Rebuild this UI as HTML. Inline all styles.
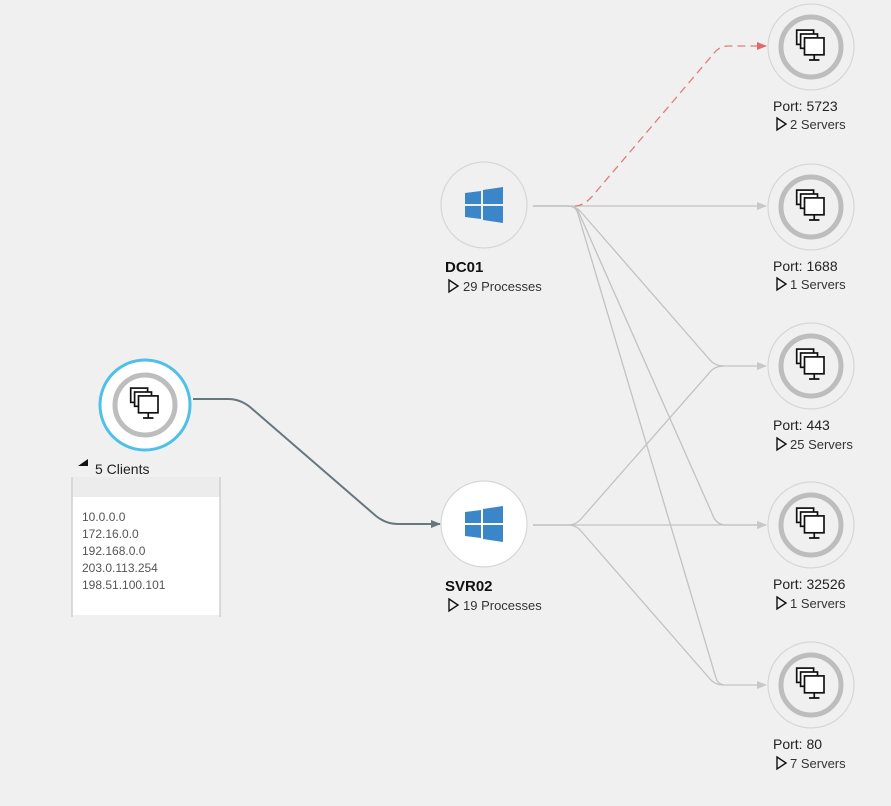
<!DOCTYPE html>
<html><head><style>
body{margin:0;background:#f0f0f0;width:891px;height:801px;overflow:hidden;font-family:"Liberation Sans",sans-serif}
</style></head><body>
<svg width="891" height="801" viewBox="0 0 891 801" xmlns="http://www.w3.org/2000/svg" font-family="Liberation Sans, sans-serif">
<defs>
<marker id="ag" markerWidth="10" markerHeight="10" refX="9" refY="5" orient="auto" markerUnits="userSpaceOnUse"><path d="M0,1 L10,5 L0,9 z" fill="#c8c8c8"/></marker>
<marker id="ar" markerWidth="10" markerHeight="10" refX="9" refY="5" orient="auto" markerUnits="userSpaceOnUse"><path d="M0,1 L10,5 L0,9 z" fill="#e06b6b"/></marker>
<marker id="ad" markerWidth="10" markerHeight="10" refX="9" refY="5" orient="auto" markerUnits="userSpaceOnUse"><path d="M0,1 L10,5 L0,9 z" fill="#68767e"/></marker>
<g id="mon0" fill="none" stroke="#111" stroke-width="1.3">
<rect x="-11" y="-13" width="13" height="11" fill="#fff"/>
<rect x="-8" y="-10" width="13" height="11" fill="#fff"/>
<rect x="-5" y="-7" width="15" height="13" fill="#fff"/>
<path d="M2.5,6 V10 M-1.5,10 H6.5"/>
</g>
<g id="mon"><use href="#mon0" transform="scale(1.3)"/></g>
<g id="win" fill="#3a86c8">
<path d="M-19,-12 L-3,-14 V-1 H-19 Z M-1,-15 L19,-18 V-1 H-1 Z M-19,1 H-3 V14 L-19,12 Z M-1,1 H19 V18 L-1,15 Z"/>
</g>
</defs>
<g fill="none" stroke="#c2c2c2" stroke-width="1.3">
<path d="M533,206 H766" marker-end="url(#ag)"/>
<path d="M533,206 H568 Q576,206 581,212 L710,360 Q715,366 724,366 H766" marker-end="url(#ag)"/>
<path d="M533,206 H568 Q576,206 579,213 L714,518 Q718,525 726,525 H766" marker-end="url(#ag)"/>
<path d="M533,206 H568 Q576,206 578,214 L716,678 Q718,685 726,685 H766" marker-end="url(#ag)"/>
<path d="M533,525 H766" marker-end="url(#ag)"/>
<path d="M533,525 H568 Q576,525 581,519 L710,372 Q715,366 724,366"/>
<path d="M533,525 H568 Q576,525 581,531 L710,679 Q715,685 724,685"/>
</g>
<path d="M575,206 Q585,206 595,193 L715,52 Q720,46 728,46 H766" fill="none" stroke="#e07c7c" stroke-width="1.3" stroke-dasharray="8,5" marker-end="url(#ar)"/>
<path d="M193,399 H228 Q240,399 250,407 L376,516 Q386,524 398,524 H440" fill="none" stroke="#68767e" stroke-width="2" marker-end="url(#ad)"/>
<circle cx="145" cy="405" r="45" fill="#fff" stroke="#4fc0e8" stroke-width="3"/>
<circle cx="145" cy="405" r="30" fill="#fff" stroke="#bdbdbd" stroke-width="5"/>
<use href="#mon" x="145" y="405"/>
<path d="M78,466 L88,466 L88,459 Z" fill="#111"/>
<text x="95" y="474" font-size="14" fill="#222">5 Clients</text>
<rect x="72" y="477" width="148" height="20" fill="#ececec"/>
<rect x="72" y="497" width="148" height="118" fill="#fff"/>
<path d="M72,477 V617 M220,477 V617" stroke="#d0d0d0" stroke-width="1.5"/>
<g font-size="12" fill="#555">
<text x="82" y="521">10.0.0.0</text>
<text x="82" y="538">172.16.0.0</text>
<text x="82" y="555">192.168.0.0</text>
<text x="82" y="572">203.0.113.254</text>
<text x="82" y="589">198.51.100.101</text>
</g>
<circle cx="484" cy="205" r="43" fill="#f0f0f0" stroke="#d6d6d6" stroke-width="1.2"/>
<use href="#win" x="484" y="205"/>
<text x="445" y="272" font-size="15" font-weight="bold" fill="#111">DC01</text>
<path d="M449,280 L458,286 L449,292 Z" fill="none" stroke="#111" stroke-width="1.4"/>
<text x="463" y="291" font-size="13" fill="#333">29 Processes</text>
<circle cx="484" cy="524" r="43" fill="#fff" stroke="#d6d6d6" stroke-width="1.2"/>
<use href="#win" x="484" y="524"/>
<text x="445" y="591" font-size="15" font-weight="bold" fill="#111">SVR02</text>
<path d="M449,599 L458,605 L449,611 Z" fill="none" stroke="#111" stroke-width="1.4"/>
<text x="463" y="610" font-size="13" fill="#333">19 Processes</text>
<g id="p1">
<circle cx="811" cy="47" r="43" fill="#f0f0f0" stroke="#d6d6d6" stroke-width="1.2"/>
<circle cx="811" cy="47" r="30" fill="#f0f0f0" stroke="#bdbdbd" stroke-width="5"/>
<use href="#mon" x="811" y="47"/>
</g>
<use href="#p1" y="160"/><use href="#p1" y="319"/><use href="#p1" y="478"/><use href="#p1" y="638"/>
<g font-size="14" fill="#222">
<text x="773" y="111">Port: 5723</text>
<text x="773" y="271">Port: 1688</text>
<text x="773" y="430">Port: 443</text>
<text x="773" y="589">Port: 32526</text>
<text x="773" y="749">Port: 80</text>
</g>
<g fill="none" stroke="#111" stroke-width="1.4">
<path d="M777,118 L786,124 L777,130 Z"/>
<path d="M777,278 L786,284 L777,290 Z"/>
<path d="M777,438 L786,444 L777,450 Z"/>
<path d="M777,597 L786,603 L777,609 Z"/>
<path d="M777,757 L786,763 L777,769 Z"/>
</g>
<g font-size="13" fill="#333">
<text x="790" y="129">2 Servers</text>
<text x="790" y="289">1 Servers</text>
<text x="790" y="449">25 Servers</text>
<text x="790" y="608">1 Servers</text>
<text x="790" y="768">7 Servers</text>
</g>
</svg>
</body></html>
